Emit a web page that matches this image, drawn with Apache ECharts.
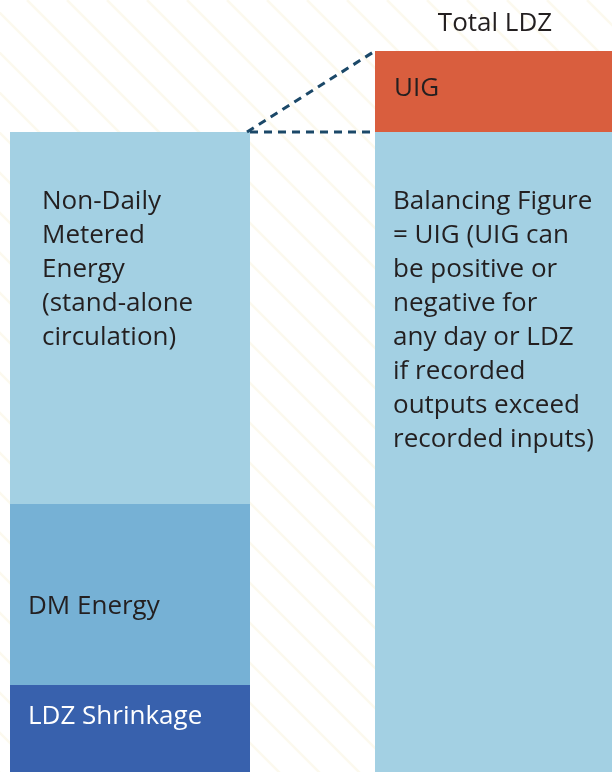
<!DOCTYPE html>
<html>
<head>
<meta charset="utf-8">
<script src="https://cdn.jsdelivr.net/npm/echarts@6/dist/echarts.min.js"></script>
<style>
html,body{margin:0;padding:0;background:#fff;}
#chart{width:612px;height:772px;}
</style>
</head>
<body>
<div id="chart"></div>
<script>
// ---- data ----
var categories = ['', 'Total LDZ'];
var shrinkage = [87, '-'];
var dmEnergy = [181, '-'];
var ndmEnergy = [372, '-'];
var balancing = ['-', 640];
var uig = ['-', 81];
var labelShrinkage = 'LDZ Shrinkage';
var labelDM = 'DM Energy';
var labelNDM = 'Non-Daily\nMetered\nEnergy\n(stand-alone\ncirculation)';
var labelBalancing = 'Balancing Figure\n= UIG (UIG can\nbe positive or\nnegative for\nany day or LDZ\nif recorded\noutputs exceed\nrecorded inputs)';
var labelUIG = 'UIG';

var FONT = 'Open Sans';
var BAR_W = 240;

// background stripes (decoration)
var stripes = [];
for (var i = -25; i < 20; i++) {
  var x0 = 27 + i * 40;
  stripes.push({
    type: 'line', silent: true, z: -10,
    shape: {x1: x0, y1: 0, x2: x0 + 900, y2: 900},
    style: {stroke: '#fcf9ee', lineWidth: 2.5}
  });
}

function lbl(text, pos, color) {
  return {
    show: true, formatter: text, position: pos,
    fontFamily: FONT, fontSize: 26, lineHeight: 34,
    color: color || '#231f20', align: 'left', verticalAlign: 'top'
  };
}

var chart = echarts.init(document.getElementById('chart'), null, {renderer: 'canvas'});
var option = {
  animation: false,
  backgroundColor: '#ffffff',
  grid: {left: 130, right: 117, top: 51, bottom: 0},
  xAxis: {
    type: 'category', data: categories, position: 'top', boundaryGap: false,
    axisLine: {show: false}, axisTick: {show: false}, splitLine: {show: false},
    axisLabel: {fontFamily: FONT, fontSize: 26, color: '#231f20', margin: 14}
  },
  yAxis: {type: 'value', min: 0, max: 721, show: false, splitLine: {show: false}},
  graphic: stripes,
  series: [
    {name: 'LDZ Shrinkage', type: 'bar', stack: 't', barWidth: BAR_W, data: shrinkage,
     itemStyle: {color: '#3861ad'}, label: lbl(labelShrinkage, [18, 15], '#ffffff')},
    {name: 'DM Energy', type: 'bar', stack: 't', barWidth: BAR_W, data: dmEnergy,
     itemStyle: {color: '#76b1d5'}, label: lbl(labelDM, [18, 86])},
    {name: 'Non-Daily Metered Energy', type: 'bar', stack: 't', barWidth: BAR_W, data: ndmEnergy,
     itemStyle: {color: '#a3d0e3'}, label: lbl(labelNDM, [32, 53])},
    {name: 'Balancing Figure', type: 'bar', stack: 't', barWidth: BAR_W, data: balancing,
     itemStyle: {color: '#a3d0e3'}, label: lbl(labelBalancing, [18, 53])},
    {name: 'UIG', type: 'bar', stack: 't', barWidth: BAR_W, data: uig,
     itemStyle: {color: '#d95e3e'}, label: lbl(labelUIG, [19, 21])}
  ]
};
chart.setOption(option);

// dashed connector lines computed through the axes
var leftTotal = shrinkage[0] + dmEnergy[0] + ndmEnergy[0];
var rightTotal = balancing[1] + uig[1];
var pL = chart.convertToPixel({gridIndex: 0}, [0, leftTotal]);
var pR = chart.convertToPixel({gridIndex: 0}, [1, rightTotal]);
var pRb = chart.convertToPixel({gridIndex: 0}, [1, balancing[1]]);
var lx = pL[0] + BAR_W / 2, rx = pR[0] - BAR_W / 2;
var dashStyle = {stroke: '#1b4868', lineWidth: 3, lineDash: [8, 6]};
chart.setOption({
  graphic: stripes.concat([
    {type: 'line', silent: true, z: 10, shape: {x1: lx - 3, y1: pL[1], x2: rx, y2: pR[1]}, style: dashStyle},
    {type: 'line', silent: true, z: 10, shape: {x1: lx, y1: pRb[1], x2: rx, y2: pRb[1]}, style: dashStyle}
  ])
});
</script>
</body>
</html>
